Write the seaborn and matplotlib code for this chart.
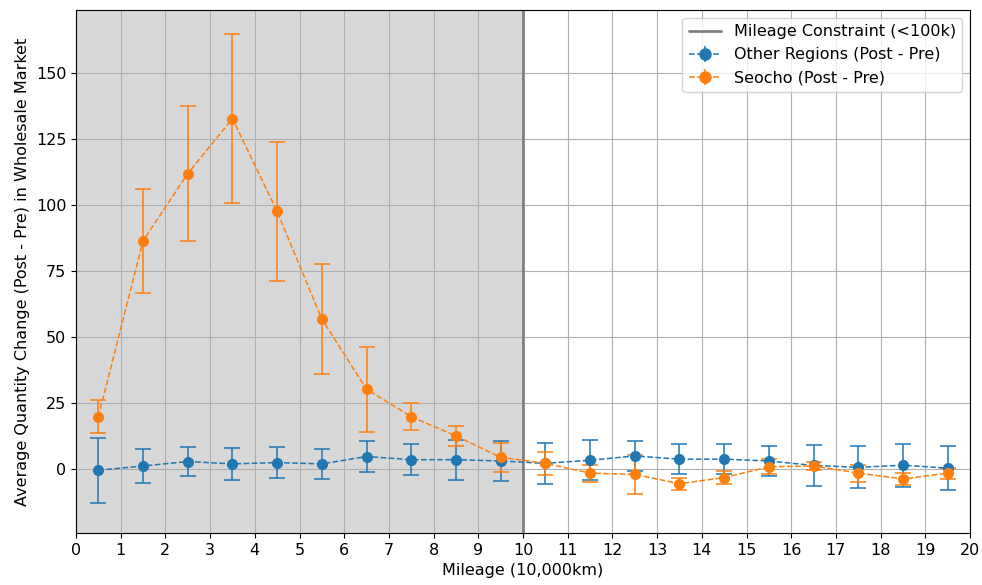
import numpy as np
import pandas as pd
import matplotlib
matplotlib.use("Agg")
import matplotlib.pyplot as plt
import seaborn as sns

mileage = [0.5, 1.5, 2.5, 3.5, 4.5, 5.5, 6.5, 7.5, 8.5, 9.5,
           10.5, 11.5, 12.5, 13.5, 14.5, 15.5, 16.5, 17.5, 18.5, 19.5]
other_mean = [-0.5, 1.1, 2.8, 1.9, 2.4, 1.9, 4.7, 3.5, 3.5, 3.0,
              2.1, 3.3, 4.9, 3.7, 3.7, 3.0, 1.3, 0.6, 1.4, 0.3]
other_err = [12.4, 6.4, 5.6, 6.0, 5.9, 5.8, 5.8, 5.8, 7.6, 7.7,
             7.7, 7.6, 5.7, 5.7, 5.7, 5.8, 7.8, 7.9, 8.1, 8.2]
seocho_mean = [19.8, 86.5, 112.0, 132.8, 97.6, 56.8, 30.2, 19.8, 12.5, 4.4,
               2.1, -1.6, -2.1, -5.6, -3.3, 0.8, 1.1, -1.6, -3.8, -1.6]
seocho_err = [6.3, 19.7, 25.5, 32.0, 26.5, 21.0, 16.1, 5.1, 3.8, 5.6,
              4.3, 3.2, 7.5, 2.3, 2.5, 2.8, 1.7, 3.2, 2.4, 2.1]
xticks = list(range(0, 21))
limit_x = 10

sns.set_style("ticks")
plt.rcParams['font.family'] = ['DejaVu Sans']
plt.rcParams['text.color'] = 'black'
plt.rcParams['axes.labelcolor'] = 'black'
plt.rcParams['xtick.color'] = 'black'
plt.rcParams['ytick.color'] = 'black'

fig = plt.figure(figsize=(9.82, 5.85), dpi=100)
ax = fig.add_axes([0.0774, 0.0889, 0.9104, 0.894])

ax.axvspan(0, limit_x, color='grey', alpha=0.3, lw=0, zorder=0)
ax.axvline(limit_x, color='grey', lw=2, label='Mileage Constraint (<100k)', zorder=1)

df = pd.DataFrame({"Mileage": mileage * 2,
                   "Change": other_mean + seocho_mean,
                   "Series": ["Other Regions (Post - Pre)"] * len(mileage) + ["Seocho (Post - Pre)"] * len(mileage)})
palette = {"Other Regions (Post - Pre)": "#1f77b4", "Seocho (Post - Pre)": "#ff7f0e"}

for name, err in [("Other Regions (Post - Pre)", other_err), ("Seocho (Post - Pre)", seocho_err)]:
    sub = df[df.Series == name]
    c = palette[name]
    sns.lineplot(data=sub, x="Mileage", y="Change", ax=ax, color=c, marker='o',
                 markersize=8, markeredgewidth=0, linestyle='--', linewidth=1.1,
                 legend=False, zorder=3)
    ax.errorbar(sub["Mileage"], sub["Change"], yerr=err, fmt='none', ecolor=c,
                elinewidth=1.1, capsize=6, capthick=1.1, zorder=2)
    ax.errorbar([], [], yerr=[], fmt='o--', color=c, markersize=8, lw=1.1,
                elinewidth=1.1, capsize=6, label=name)

ax.set_xlim(0, 20)
ax.set_ylim(-24.3, 174)
ax.set_xticks(xticks)
ax.set_yticks([0, 25, 50, 75, 100, 125, 150])
ax.grid(True, color='#b0b0b0', lw=0.8)
ax.set_axisbelow(True)
for s in ax.spines.values():
    s.set_color('black')
    s.set_linewidth(0.8)
ax.tick_params(labelsize=11.5)
ax.set_xlabel("Mileage (10,000km)", fontsize=11.5)
ax.set_ylabel("Average Quantity Change (Post - Pre) in Wholesale Market", fontsize=11.5)
ax.legend(loc='upper right', fontsize=11.5, framealpha=0.8)

fig.savefig("out.png", dpi=100)
